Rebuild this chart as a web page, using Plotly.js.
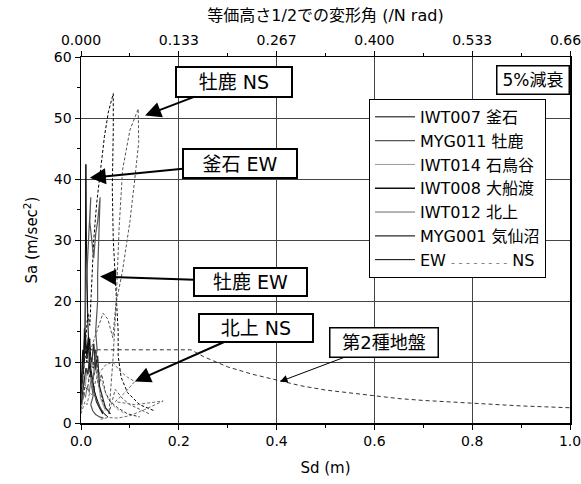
<!DOCTYPE html>
<html>
<head>
<meta charset="utf-8">
<script src="https://cdn.plot.ly/plotly-3.0.1.min.js"></script>
<style>html,body{margin:0;padding:0;background:#fff;overflow:hidden;}#chart{width:581px;height:484px;}</style>
</head>
<body>
<div id="chart"></div>
<script>
// ---- data (Sd in m, Sa in m/s^2) ----
var stationNames = ['IWT007 釜石','MYG011 牡鹿','IWT014 石鳥谷','IWT008 大船渡','IWT012 北上','MYG001 気仙沼'];

var iwt007EW_sd = [0,0.002,0.004,0.005,0.007,0.008,0.009,0.010,0.011,0.012,0.014,0.016,0.018,0.020,0.024,0.028,0.034,0.040,0.048,0.055];
var iwt007EW_sa = [4.2,6.5,9.8,8.0,15.5,12.0,28.0,42.4,30.0,22.0,16.5,12.5,13.8,9.0,7.2,5.0,3.6,2.4,1.5,1.0];
var iwt007NS_sd = [0,0.003,0.006,0.010,0.014,0.018,0.022,0.026,0.032,0.040,0.048,0.056,0.066,0.066,0.064,0.066,0.070,0.074,0.076,0.076,0.082,0.095,0.120,0.150];
var iwt007NS_sa = [5,7,10,14,18,16,22,30,36,42,47,51,54,48,38.5,30,24,20,15,11,7.5,5,3,2];

var myg011EW_sd = [0,0.003,0.006,0.008,0.010,0.013,0.016,0.020,0.018,0.022,0.026,0.030,0.034,0.039,0.036,0.034,0.034,0.032,0.030,0.033,0.028,0.026,0.022,0.025,0.020,0.024,0.030,0.038,0.046];
var myg011EW_sa = [5.5,8.0,12.0,14.5,21.0,27.0,31.0,37.0,33.0,30.0,27.0,31.0,33.0,37.0,30.0,24.3,20.0,16.5,15.0,12.0,10.0,8.0,6.0,4.5,3.0,2.0,1.4,1.0,0.8];
var myg011NS_sd = [0,0.004,0.008,0.012,0.016,0.020,0.028,0.036,0.045,0.055,0.065,0.072,0.078,0.085,0.100,0.117,0.118,0.110,0.100,0.085,0.072,0.065,0.057,0.070,0.085,0.100,0.120,0.140];
var myg011NS_sa = [6,8,11,10,13,12,14,16,18,17,14,20,32,41.5,48,51.5,46,40,33,25,19.7,10,1.5,5.5,4,3,2.2,1.5];

var iwt014EW_sd = [0,0.003,0.006,0.009,0.012,0.015,0.018,0.022,0.026,0.030,0.035,0.040,0.050];
var iwt014EW_sa = [3,5,7.5,6,9,8,11,9,13,10,7,4,2];
var iwt014NS_sd = [0,0.004,0.008,0.012,0.016,0.020,0.025,0.030,0.036,0.045,0.055,0.070,0.090];
var iwt014NS_sa = [3,4.5,6,8,7,10,9,12,8,6,4,2.5,1.5];

var iwt008EW_sd = [0,0.002,0.004,0.006,0.008,0.010,0.012,0.015,0.018,0.022,0.027,0.032,0.038,0.045];
var iwt008EW_sa = [5,8,12,10,15,13,11,14,9,7,5,3.5,2.5,1.5];
var iwt008NS_sd = [0,0.003,0.006,0.009,0.012,0.016,0.020,0.025,0.030,0.035,0.042,0.050,0.060];
var iwt008NS_sa = [4,6,9,12,10,14,11,9,12,7,4,2.5,1.5];

var iwt012EW_sd = [0,0.003,0.006,0.009,0.013,0.017,0.021,0.025,0.030,0.036,0.043,0.050];
var iwt012EW_sa = [2,3.5,5,4.2,6,5,7.5,5.5,4,3,2,1.2];
var iwt012NS_sd = [0,0.004,0.008,0.012,0.018,0.024,0.030,0.040,0.050,0.065,0.080,0.095,0.110,0.090,0.070,0.110,0.140,0.168,0.130,0.100,0.075,0.055,0.040];
var iwt012NS_sa = [1.5,2.5,3.5,3,5,4.5,7,8.5,9.5,10,8.5,7.5,6.8,5,3.5,3.0,3.3,3.6,2.2,1.2,0.8,0.9,0.6];

var myg001EW_sd = [0,0.003,0.006,0.010,0.014,0.018,0.022,0.026,0.030,0.034,0.038,0.044,0.050,0.060];
var myg001EW_sa = [3,5,7,9,8,11,10,13,9,11,6,4,2.5,1.5];
var myg001NS_sd = [0,0.004,0.008,0.013,0.018,0.024,0.030,0.036,0.042,0.050,0.060,0.075,0.095,0.120];
var myg001NS_sa = [3,4,6,5.5,8,7,9,6,8,5,3.5,2.5,1.5,1];

// design spectrum, soil type 2
var designSd = [0,0.008,0.05,0.10,0.15,0.20,0.225,0.25,0.30,0.35,0.40,0.45,0.50,0.55,0.60,0.65,0.70,0.75,0.80,0.85,0.90,0.95,1.00];
var designSa = [4.8,12,12,12,12,12,12,10.9,9.2,8.0,7.0,6.1,5.4,4.9,4.4,4.0,3.7,3.45,3.2,3.0,2.8,2.65,2.5];

var topTickVals = [0,2/15,4/15,6/15,8/15,10/15];

// ---- styles ----
var FONT = '"DejaVu Sans", "Noto Sans CJK JP", sans-serif';
var colors = ['#000000','#555555','#9a9a9a','#111111','#6a6a6a','#2a2a2a'];
var widths = [1,1.2,1,1.5,1,1.2];
var ewSd = [iwt007EW_sd,myg011EW_sd,iwt014EW_sd,iwt008EW_sd,iwt012EW_sd,myg001EW_sd];
var ewSa = [iwt007EW_sa,myg011EW_sa,iwt014EW_sa,iwt008EW_sa,iwt012EW_sa,myg001EW_sa];
var nsSd = [iwt007NS_sd,myg011NS_sd,iwt014NS_sd,iwt008NS_sd,iwt012NS_sd,myg001NS_sd];
var nsSa = [iwt007NS_sa,myg011NS_sa,iwt014NS_sa,iwt008NS_sa,iwt012NS_sa,myg001NS_sa];

var traces = [];
for (var i = 0; i < stationNames.length; i++) {
  traces.push({x: nsSd[i], y: nsSa[i], mode:'lines', name: stationNames[i]+' NS', showlegend:false,
    line:{color:colors[i], width:1, dash:'3px,2px'}, hoverinfo:'skip'});
}
for (var j = 0; j < stationNames.length; j++) {
  traces.push({x: ewSd[j], y: ewSa[j], mode:'lines', name: stationNames[j],
    line:{color:colors[j], width:widths[j]}, hoverinfo:'skip'});
}
traces.push({x: designSd, y: designSa, mode:'lines', name:'第2種地盤', showlegend:false,
  line:{color:'#333', width:1, dash:'4px,3px'}});
traces.push({x:[null], y:[null], mode:'lines', name:'EW <span style="color:#777;font-size:11px">- - - - - - - -</span> NS',
  line:{color:'#000', width:1}});
traces.push({x:[0, 2/3], y:[null,null], xaxis:'x2', mode:'lines', showlegend:false, hoverinfo:'skip'});

// labelled box with an arrow pointing at (x, y); (ax, ay) = box centre offset in px
function callout(text, x, y, ax, ay, w, h, size, bw, aw, as) {
  return {x:x, y:y, xref:'x', yref:'y', ax:ax, ay:ay, text:text, showarrow:true,
    arrowhead:2, arrowsize:as, arrowwidth:aw, arrowcolor:'#000',
    font:{family:FONT, size:size, color:'#000'}, bordercolor:'#000', borderwidth:bw, borderpad:2,
    bgcolor:'#fff', width:w, height:h};
}

var layout = {
  width:581, height:484,
  margin:{l:81, r:11, t:57, b:61},
  paper_bgcolor:'#fff', plot_bgcolor:'#fff',
  font:{family:FONT, size:14, color:'#000'},
  showlegend:true,
  legend:{x:(369-81)/489, y:(423.5-99)/366.5, xanchor:'left', yanchor:'top',
    bordercolor:'#000', borderwidth:1, bgcolor:'#fff', font:{family:FONT, size:16, color:'#000'},
    tracegroupgap:0, itemwidth:40},
  xaxis:{range:[0,1], dtick:0.2, tickformat:'.1f', ticklabeloverflow:'allow', showgrid:true, gridcolor:'#444', gridwidth:1,
    zeroline:false, showline:true, linecolor:'#000', linewidth:1.5, ticks:'outside', ticklen:5, tickcolor:'#000',
    minor:{dtick:0.1, ticks:'outside', ticklen:3, tickcolor:'#000', showgrid:false},
    tickfont:{size:14}, title:{text:'Sd (m)', font:{size:15}, standoff:14}},
  xaxis2:{overlaying:'x', side:'top', anchor:'y', range:[0,2/3], tickvals:topTickVals, tickformat:'.3f',
    ticklabeloverflow:'allow',
    showgrid:false, zeroline:false, showline:true, linecolor:'#000', linewidth:1.5, ticks:'outside', ticklen:5, tickcolor:'#000',
    minor:{dtick:1/15, ticks:'outside', ticklen:3, tickcolor:'#000', showgrid:false},
    tickfont:{size:14}, title:{text:'等価高さ1/2での変形角 (/N rad)', font:{size:16}, standoff:6}},
  yaxis:{range:[0,60], dtick:10, showgrid:true, gridcolor:'#444', gridwidth:1, zeroline:false,
    showline:true, linecolor:'#000', linewidth:1.5, mirror:true, ticks:'outside', ticklen:5, tickcolor:'#000',
    minor:{dtick:5, ticks:'outside', ticklen:3, tickcolor:'#000', showgrid:false},
    tickfont:{size:14}, title:{text:'Sa (m/sec<sup>2</sup>)', font:{size:15}, standoff:12}},
  annotations:[
    callout('牡鹿 NS', 0.131, 50.4, 89, -34, 110, 24, 19, 2, 2, 1.6),
    callout('釜石 EW', 0.018, 40.2, 150, -14.5, 108, 23, 19, 2, 2, 1.6),
    callout('牡鹿 EW', 0.039, 24.0, 150.5, 5, 107, 22, 19, 2, 2, 1.6),
    callout('北上 NS', 0.110, 6.8, 121, -53.5, 108, 22, 19, 2, 2, 1.6),
    callout('第2種地盤', 0.407, 6.8, 103.5, -39, 103, 24, 18, 1.5, 1, 1.5),
    {xref:'paper', yref:'paper', x:(533-81)/489, y:(423.5-80)/366.5, text:'5%減衰', showarrow:false,
      font:{family:FONT, size:17, color:'#000'}, bordercolor:'#000', borderwidth:1.5, borderpad:2,
      bgcolor:'#fff', width:67, height:23, xanchor:'center', yanchor:'middle'}
  ]
};

Plotly.newPlot('chart', traces, layout, {staticPlot:true, displayModeBar:false});
</script>
</body>
</html>
